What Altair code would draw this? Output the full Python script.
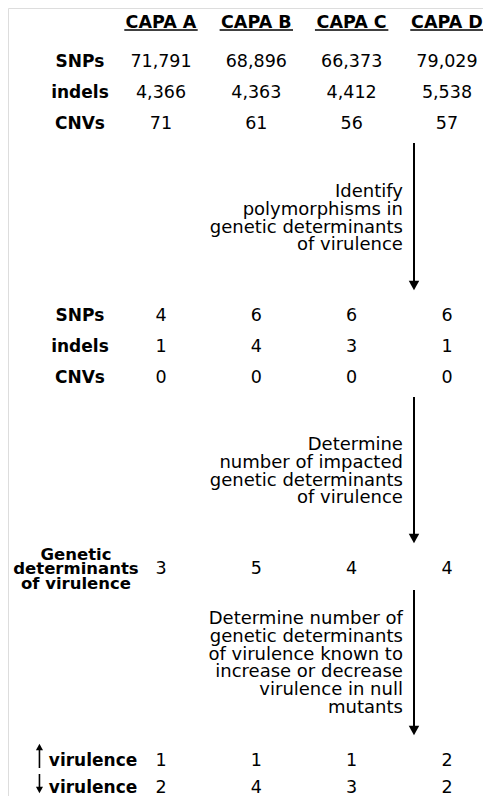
import altair as alt
import pandas as pd

# ---------------- data ----------------
strains = ["CAPA A", "CAPA B", "CAPA C", "CAPA D"]
variant_types = ["SNPs", "indels", "CNVs"]
total_snps = [71791, 68896, 66373, 79029]
total_indels = [4366, 4363, 4412, 5538]
total_cnvs = [71, 61, 56, 57]
gdv_snps = [4, 6, 6, 6]
gdv_indels = [1, 4, 3, 1]
gdv_cnvs = [0, 0, 0, 0]
impacted_gdv = [3, 5, 4, 4]
up_virulence = [1, 1, 1, 2]
down_virulence = [2, 4, 3, 2]

step1 = ["Identify", "polymorphisms in", "genetic determinants", "of virulence"]
step2 = ["Determine", "number of impacted", "genetic determinants", "of virulence"]
step3 = ["Determine number of", "genetic determinants", "of virulence known to",
         "increase or decrease", "virulence in null", "mutants"]
gdv_label = ["Genetic", "determinants", "of virulence"]

# ---------------- layout (column units / vertical layout units) ----------------
col_pos = [1, 2, 3, 4]
label_col = 0.150
gdv_label_col = 0.108
vir_label_col = 0.287
small_arrow_col = -0.275
arrow_col = 3.654
step_text_col = 3.538
underline_half = 0.385

header_y = 21
underline_y = 30
block1_y = [60, 91, 122]
block2_y = [314, 345, 376]
gdv_y = 567
gdv_label_y = [553, 567, 582]
vir_y = [759, 786]
arrows = [(143, 290), (397, 543), (590, 735)]
step_first_y = [190, 443, 617]
step_lh = 17.8

FONT = "DejaVu Sans"
DY = 2

xs = alt.Scale(domain=[-0.605, 4.378], nice=False, zero=False)
ys = alt.Scale(domain=[8, 796], nice=False, zero=False, reverse=True)


def X(f="x"):
    return alt.X(f"{f}:Q", scale=xs, axis=None)


def Y(f="y"):
    return alt.Y(f"{f}:Q", scale=ys, axis=None)


# headers
hdr = pd.DataFrame({"x": col_pos, "y": header_y, "t": strains})
hdr_ul = pd.DataFrame({"x": [c - underline_half for c in col_pos],
                       "x2": [c + underline_half for c in col_pos], "y": underline_y})

# row labels
labels_rows = []
for ys_ in (block1_y, block2_y):
    for name, yy in zip(variant_types, ys_):
        labels_rows.append({"x": label_col, "y": yy, "t": name})
labels_df = pd.DataFrame(labels_rows)

gdv_lab_df = pd.DataFrame({"x": gdv_label_col, "y": gdv_label_y, "t": gdv_label})
vir_lab_df = pd.DataFrame({"x": vir_label_col, "y": vir_y, "t": ["virulence", "virulence"]})

# values
val_rows = []
for series, yy in zip([total_snps, total_indels, total_cnvs], block1_y):
    for c, v in zip(col_pos, series):
        val_rows.append({"x": c, "y": yy, "t": f"{v:,}"})
for series, yy in zip([gdv_snps, gdv_indels, gdv_cnvs], block2_y):
    for c, v in zip(col_pos, series):
        val_rows.append({"x": c, "y": yy, "t": f"{v:,}"})
for c, v in zip(col_pos, impacted_gdv):
    val_rows.append({"x": c, "y": gdv_y, "t": str(v)})
for series, yy in zip([up_virulence, down_virulence], vir_y):
    for c, v in zip(col_pos, series):
        val_rows.append({"x": c, "y": yy, "t": str(v)})
vals_df = pd.DataFrame(val_rows)

# step text
step_rows = []
for lines, y0 in zip([step1, step2, step3], step_first_y):
    for i, line in enumerate(lines):
        step_rows.append({"x": step_text_col, "y": y0 + i * step_lh, "t": line})
step_df = pd.DataFrame(step_rows)

# big arrows
arrow_df = pd.DataFrame({"x": arrow_col, "y": [a[0] for a in arrows],
                         "y2": [a[1] - 7 for a in arrows]})
head_df = pd.DataFrame({"x": arrow_col, "y": [a[1] - 4.5 for a in arrows]})

# small arrows next to "virulence"
small_line_df = pd.DataFrame({"x": small_arrow_col, "y": [748, 774], "y2": [768, 788]})
small_up_df = pd.DataFrame({"x": small_arrow_col, "y": [747]})
small_dn_df = pd.DataFrame({"x": small_arrow_col, "y": [790]})

tri_down = "M-1,-0.9L1,-0.9L0,0.9Z"
tri_up = "M-1,0.9L1,0.9L0,-0.9Z"


def txt(df, size, bold=False, align="center"):
    kw = dict(font=FONT, fontSize=size, baseline="middle", align=align, color="black", dy=DY)
    if bold:
        kw["fontWeight"] = "bold"
    return alt.Chart(df).mark_text(**kw).encode(x=X(), y=Y(), text="t:N")


layers = [
    txt(hdr, 17.5, bold=True),
    alt.Chart(hdr_ul).mark_rule(color="black", strokeWidth=1.5).encode(x=X(), x2="x2:Q", y=Y()),
    txt(labels_df, 17, bold=True),
    txt(gdv_lab_df, 16.5, bold=True),
    txt(vir_lab_df, 17, bold=True),
    txt(vals_df, 17.5),
    txt(step_df, 18, align="right"),
    alt.Chart(arrow_df).mark_rule(color="black", strokeWidth=2).encode(x=X(), y=Y(), y2="y2:Q"),
    alt.Chart(head_df).mark_point(shape=tri_down, size=110, filled=True, color="black",
                                  opacity=1, strokeWidth=0).encode(x=X(), y=Y()),
    alt.Chart(small_line_df).mark_rule(color="black", strokeWidth=1.6).encode(x=X(), y=Y(), y2="y2:Q"),
    alt.Chart(small_up_df).mark_point(shape=tri_up, size=50, filled=True, color="black",
                                      opacity=1, strokeWidth=0).encode(x=X(), y=Y()),
    alt.Chart(small_dn_df).mark_point(shape=tri_down, size=50, filled=True, color="black",
                                      opacity=1, strokeWidth=0).encode(x=X(), y=Y()),
]

chart = alt.layer(*layers).properties(
    width=475, height=788,
    autosize=alt.AutoSizeParams(type="none"),
    padding=0,
).configure_view(stroke=None).configure(background="white")

chart.save("out.html", embed_options={"renderer": "svg", "actions": False})
